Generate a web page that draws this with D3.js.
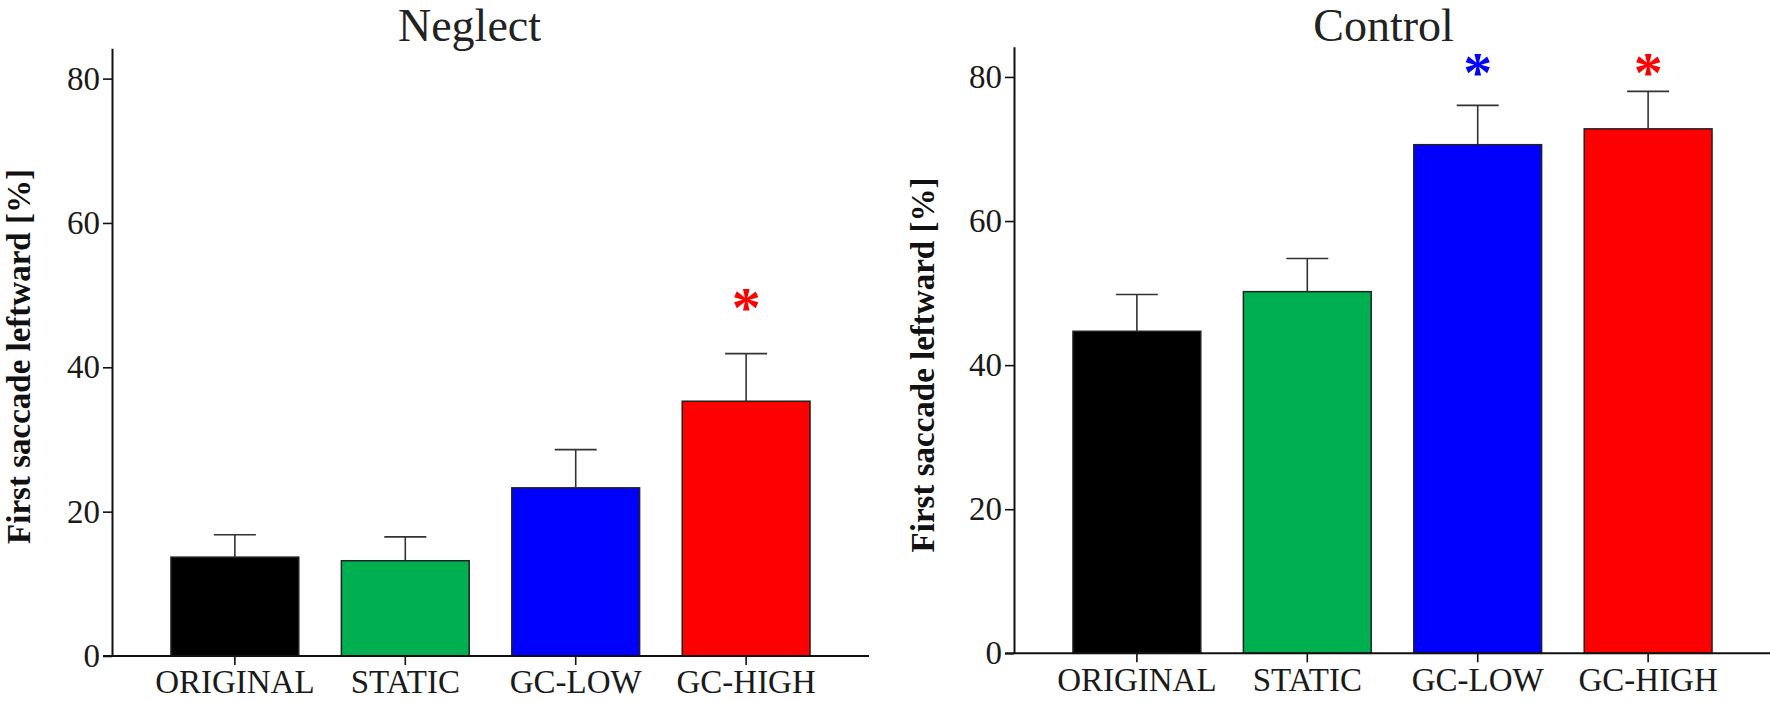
<!DOCTYPE html>
<html>
<head>
<meta charset="utf-8">
<script src="https://cdn.jsdelivr.net/npm/d3@7"></script>
<style>
  html, body { margin: 0; padding: 0; background: #fff; }
  svg { display: block; }
  text { font-family: "Liberation Serif", "Times New Roman", serif; }
</style>
</head>
<body>
<svg id="chart" width="1770" height="701"></svg>
<script>
// ---- Data ----
const categories = ["ORIGINAL", "STATIC", "GC-LOW", "GC-HIGH"];
const barColors = ["#000000", "#00B050", "#0000FF", "#FF0000"];
const yTicks = [0, 20, 40, 60, 80];

const neglectMeans = [13.7, 13.2, 23.3, 35.3];
const neglectSEM   = [3.1, 3.3, 5.3, 6.6];
const neglectSig   = [false, false, false, true];
const neglectSigLevel = 49.3;

const controlMeans = [44.7, 50.2, 70.6, 72.8];
const controlSEM   = [5.1, 4.6, 5.45, 5.2];
const controlSig   = [false, false, true, true];
const controlSigLevel = 81.7;

const yLabel = "First saccade leftward [%]";

// ---- Layout ----
const panels = [
  { title: "Neglect", means: neglectMeans, sem: neglectSEM, sig: neglectSig, sigLevel: neglectSigLevel,
    x0: 112, yBase: 656, yTop: 48.3, titleX: 469.5, labelX: 30, labelY: 356.5 },
  { title: "Control", means: controlMeans, sem: controlSEM, sig: controlSig, sigLevel: controlSigLevel,
    x0: 1014, yBase: 653.3, yTop: 46.7, titleX: 1383.5, labelX: 934, labelY: 365 }
];
const axisWidth = 757;
const yMax = 84.2;

const svg = d3.select("#chart");

panels.forEach(p => {
  const x = d3.scaleBand().domain(categories)
    .range([p.x0, p.x0 + axisWidth])
    .paddingInner(0.25).paddingOuter(0.346);
  const y = d3.scaleLinear().domain([0, yMax]).range([p.yBase, p.yTop]);

  const data = categories.map((c, i) => ({ c, m: p.means[i], s: p.sem[i], col: barColors[i], sig: p.sig[i] }));

  // Bars
  svg.append("g").selectAll("rect").data(data).join("rect")
    .attr("x", d => x(d.c))
    .attr("width", x.bandwidth())
    .attr("y", d => y(d.m))
    .attr("height", d => y(0) - y(d.m))
    .attr("fill", d => d.col)
    .attr("stroke", "#222")
    .attr("stroke-width", 1.5);

  // Error bars (upper only)
  const eb = svg.append("g").attr("stroke", "#333").attr("stroke-width", 1.6).attr("fill", "none");
  eb.selectAll("line.v").data(data).join("line").attr("class", "v")
    .attr("x1", d => x(d.c) + x.bandwidth() / 2).attr("x2", d => x(d.c) + x.bandwidth() / 2)
    .attr("y1", d => y(d.m)).attr("y2", d => y(d.m + d.s));
  eb.selectAll("line.cap").data(data).join("line").attr("class", "cap")
    .attr("x1", d => x(d.c) + x.bandwidth() / 2 - 21).attr("x2", d => x(d.c) + x.bandwidth() / 2 + 21)
    .attr("y1", d => y(d.m + d.s)).attr("y2", d => y(d.m + d.s));

  // Significance stars
  svg.append("g").selectAll("text").data(data.filter(d => d.sig)).join("text")
    .attr("x", d => x(d.c) + x.bandwidth() / 2)
    .attr("y", y(p.sigLevel) + 27)
    .attr("text-anchor", "middle")
    .attr("font-weight", "bold")
    .attr("font-size", 58)
    .attr("fill", d => d.col)
    .text("*");

  // Y axis
  const ya = svg.append("g").attr("transform", `translate(${p.x0},0)`)
    .call(d3.axisLeft(y).tickValues(yTicks).tickSize(9).tickSizeOuter(0).tickPadding(3));
  ya.select(".domain").attr("stroke", "#111").attr("stroke-width", 2);
  ya.selectAll(".tick line").attr("stroke", "#111").attr("stroke-width", 1.6);
  ya.selectAll(".tick text").attr("font-size", 33).attr("fill", "#1a1a1a")
    .style("font-family", '"Liberation Serif", serif');

  // X axis
  const xa = svg.append("g").attr("transform", `translate(0,${p.yBase})`)
    .call(d3.axisBottom(x).tickSize(9).tickSizeOuter(0).tickPadding(5));
  xa.select(".domain").attr("d", `M${p.x0 - 9},0H${p.x0 + axisWidth}`)
    .attr("stroke", "#111").attr("stroke-width", 2);
  xa.selectAll(".tick line").attr("stroke", "#111").attr("stroke-width", 1.6);
  xa.selectAll(".tick text").attr("font-size", 33).attr("fill", "#1a1a1a")
    .style("font-family", '"Liberation Serif", serif');

  // Title
  svg.append("text").attr("x", p.titleX).attr("y", 41)
    .attr("text-anchor", "middle").attr("font-size", 46).attr("fill", "#222")
    .text(p.title);

  // Y label
  svg.append("text")
    .attr("transform", `translate(${p.labelX},${p.labelY}) rotate(-90)`)
    .attr("text-anchor", "middle").attr("font-size", 33).attr("font-weight", "bold").attr("fill", "#111")
    .text(yLabel);
});
</script>
</body>
</html>
